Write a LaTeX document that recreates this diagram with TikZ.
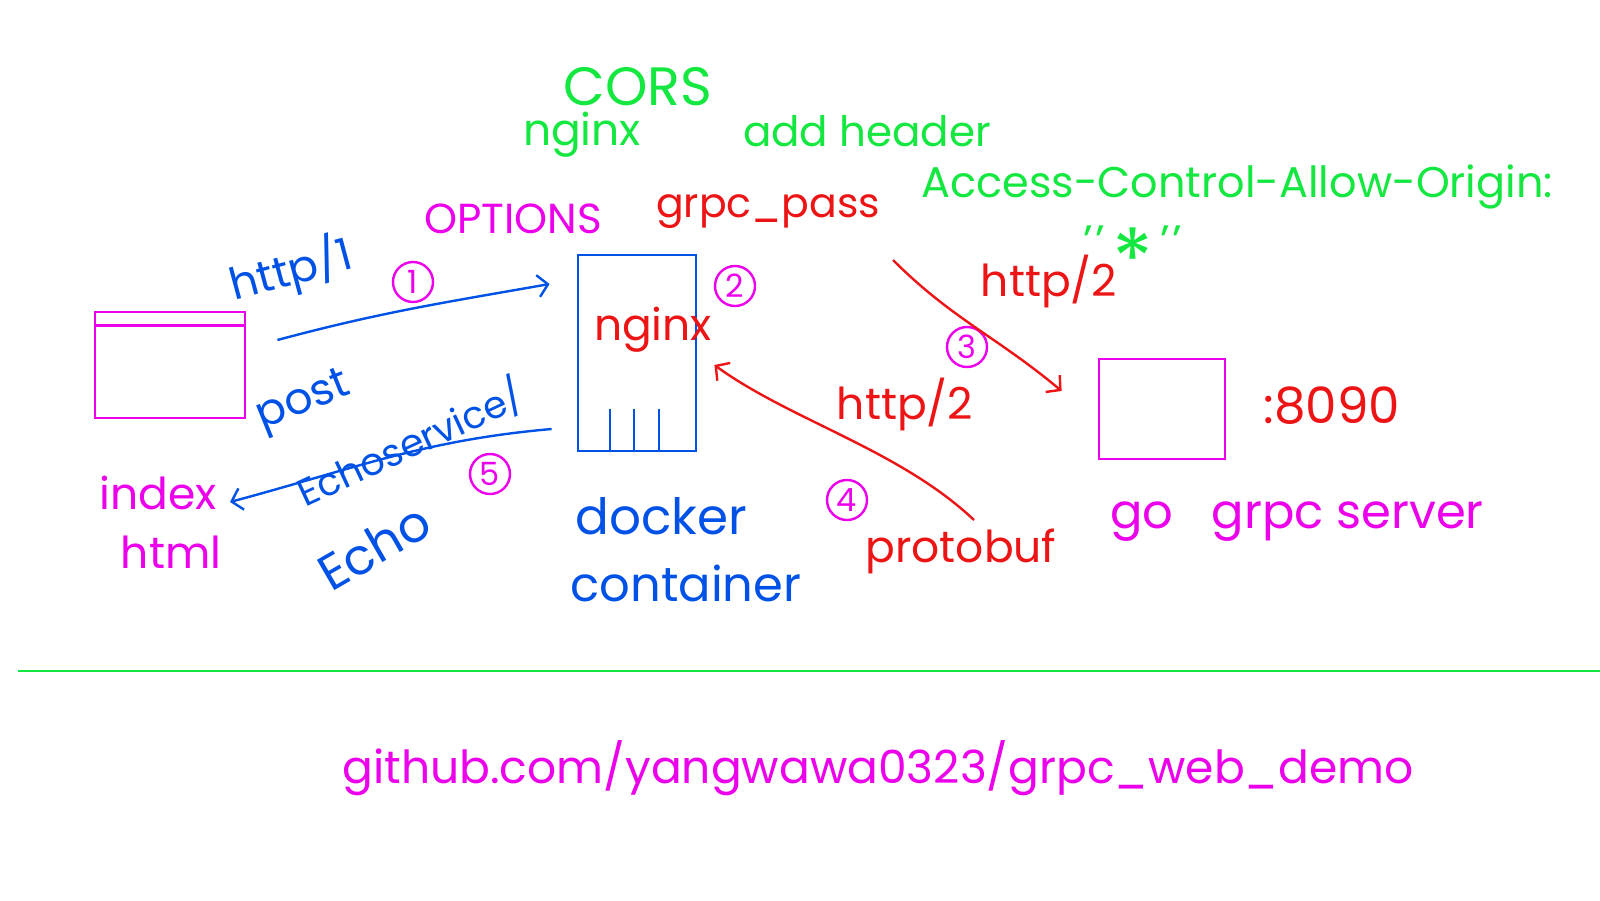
\documentclass[tikz,border=0pt]{standalone}
\usepackage{fontspec}
\setmainfont{Poppins}
\usepackage{xcolor}
\usepackage{tikz}
\usetikzlibrary{arrows.meta,calc}
\definecolor{hgreen}{RGB}{20,232,64}
\definecolor{hpink}{RGB}{236,0,236}
\definecolor{hblue}{RGB}{0,82,230}
\definecolor{hred}{RGB}{236,20,20}

\begin{document}
\begin{tikzpicture}[
  x=0.5pt, y=-0.5pt,
  every node/.style={inner sep=0pt},
  hand/.style={font=\fontsize{22}{26}\selectfont},
  big/.style={font=\fontsize{25}{29}\selectfont},
  small/.style={font=\fontsize{19}{23}\selectfont},
  box/.style={draw, line width=1.4pt},
  wire/.style={line width=1.2pt, -{Straight Barb[length=5pt,width=11pt]}},
  num/.style={circle, draw=hpink, text=hpink, line width=1.2pt, minimum size=20pt, inner sep=0pt, font=\fontsize{16}{16}\selectfont}
]
  \useasboundingbox (0,0) rectangle (1600,900);

  \node[font=\fontsize{27}{31}\selectfont, text=hgreen] (cors) at (638,87) {CORS};
  \node[hand, text=hgreen] (cnginx) at (582,135) {nginx};
  \node[font=\fontsize{21}{25}\selectfont, text=hgreen] (addh) at (867,131) {add header};
  \node[font=\fontsize{21.5}{25}\selectfont, text=hgreen] (acao) at (1237,187) {Access-Control-Allow-Origin:};
  \node[hand, text=hgreen, anchor=base] (star) at (1133,256) {'\kern1pt'\,\raisebox{-0.75em}{\fontsize{42}{42}\selectfont *}\,'\kern1pt'};
  \node[font=\fontsize{21}{25}\selectfont, text=hpink] (options) at (513,219) {OPTIONS};
  \node[font=\fontsize{20.5}{25}\selectfont, text=hred] (gpass) at (768,212) {grpc\_pass};

  \node[box, draw=hpink, minimum width=75pt, minimum height=53pt] (browser) at (170,365) {};
  \draw[hpink, line width=1.4pt] ($(browser.north west)+(0,15)$) -- ($(browser.north east)+(0,15)$);
  \node[box, draw=hblue, minimum width=59pt, minimum height=98pt] (nginx) at (637,353) {};
  \foreach \dx in {-27,-3,22}
    \draw[hblue, line width=1.4pt] ($(nginx.south)+(\dx,0)$) -- ++(0,-43);
  \node[box, draw=hpink, minimum width=63pt, minimum height=50pt] (server) at (1162,409) {};

  \node[hand, text=hred] (nginxlbl) at (653,330) {nginx};
  \node[hand, text=hblue, rotate=15] (http1) at (291,270) {http/1};
  \node[hand, text=hblue, rotate=22] (post) at (304,403) {post};
  \node[small, text=hblue, rotate=25] (echosvc) at (410,443) {Echoservice/};
  \node[big, text=hblue, rotate=30] (echo) at (374,547) {Echo};
  \node[hand, text=hpink] (index) at (158,493) {index};
  \node[hand, text=hpink] (html) at (171,552) {html};
  \node[big, text=hblue] (docker) at (661,516) {docker};
  \node[font=\fontsize{24}{28}\selectfont, text=hblue] (container) at (686,583) {container};
  \node[hand, text=hred] (http2a) at (1049,281) {http/2};
  \node[hand, text=hred] (http2b) at (905,404) {http/2};
  \node[big, text=hred] (port) at (1332,406) {:8090};
  \node[hand, text=hred] (proto) at (961,551) {protobuf};
  \node[font=\fontsize{24}{28}\selectfont, text=hpink] (gosrv) at (1297,522) {go\hspace{0.8em}grpc server};

  \node[num] (n1) at (413,282) {1};
  \node[num] (n2) at (735,286) {2};
  \node[num] (n3) at (967,347) {3};
  \node[num] (n4) at (847,500) {4};
  \node[num] (n5) at (490,474) {5};

  \coordinate (a3start) at (893,260);
  \coordinate (a4start) at (974,520);
  \coordinate (a5end) at (230,502);
  \draw[wire, hblue] ($(browser.east)+(31,-25)$) to[out=15, in=190] ($(nginx.west)+(-27,-69)$);
  \draw[wire, hblue] ($(nginx.west)+(-25,76)$) to[out=185, in=15] (a5end);
  \draw[wire, hred] (a3start) to[out=-45, in=140] ($(server.west)+(-36,-18)$);
  \draw[wire, hred] (a4start) .. controls (900,450) and (790,420) .. ($(nginx.east)+(17,12)$);

  \draw[hgreen, line width=1pt] (18,671) -- (1600,671);
  \node[font=\fontsize{22.8}{27}\selectfont, text=hpink] (repo) at (878,768) {github.com/yangwawa0323/grpc\_web\_demo};
\end{tikzpicture}
\end{document}
